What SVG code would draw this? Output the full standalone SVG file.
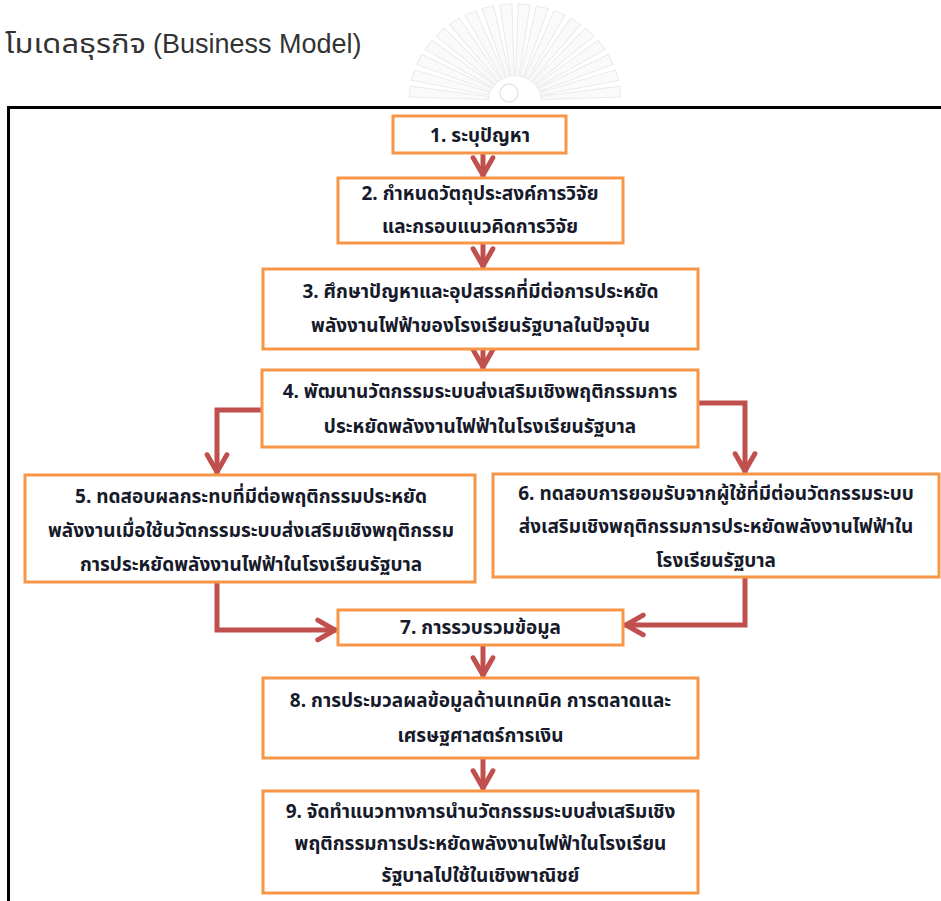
<svg xmlns="http://www.w3.org/2000/svg" width="941" height="901" viewBox="0 0 941 901">
  <defs>
    <marker id="open-arrow" viewBox="0 0 10 10" refX="9" refY="5" markerWidth="5.2" markerHeight="5.2" orient="auto" markerUnits="strokeWidth">
      <path d="M1.6,1.2 L8.2,5 L1.6,8.8" fill="none" stroke="#c0504d" stroke-width="1.9" stroke-linecap="round" stroke-linejoin="round"/>
    </marker>
    <!-- one ray of the background emblem, pointing left from the hub -->
    <polygon id="ray" points="486,98.5 414,94.5 414,105.5 486,101.5"/>
  </defs>
  <style>
    .title-th { font-family: "Noto Sans Thai", "Noto Sans", "Liberation Sans", sans-serif; font-size: 27px; fill: #333333; }
    .title-en { font-family: "Liberation Sans", "Noto Sans", sans-serif; font-size: 27px; fill: #333333; }
    .box { fill: #ffffff; stroke: #f79646; stroke-width: 3; }
    .lbl { font-family: "Noto Sans Thai", "Noto Sans", "DejaVu Sans", sans-serif; font-size: 19px; font-weight: bold; fill: #161a2a; text-anchor: middle; }
    .conn { fill: none; stroke: #c0504d; stroke-width: 5; marker-end: url(#open-arrow); }
    .frame { fill: none; stroke: #000000; stroke-width: 3; }
    .ray { fill: #fafafa; stroke: #ebebeb; stroke-width: 1; }
  </style>

  <rect x="0" y="0" width="941" height="901" fill="#ffffff"/>

  <!-- faint emblem in the page background -->
  <g id="emblem">
    <g transform="translate(515 100) scale(1.1 1) translate(-510 -100)">
      <use class="ray" href="#ray" transform="rotate(5 510 100)"/>
      <use class="ray" href="#ray" transform="rotate(15 510 100)"/>
      <use class="ray" href="#ray" transform="rotate(25 510 100)"/>
      <use class="ray" href="#ray" transform="rotate(35 510 100)"/>
      <use class="ray" href="#ray" transform="rotate(45 510 100)"/>
      <use class="ray" href="#ray" transform="rotate(55 510 100)"/>
      <use class="ray" href="#ray" transform="rotate(65 510 100)"/>
      <use class="ray" href="#ray" transform="rotate(75 510 100)"/>
      <use class="ray" href="#ray" transform="rotate(85 510 100)"/>
      <use class="ray" href="#ray" transform="rotate(95 510 100)"/>
      <use class="ray" href="#ray" transform="rotate(105 510 100)"/>
      <use class="ray" href="#ray" transform="rotate(115 510 100)"/>
      <use class="ray" href="#ray" transform="rotate(125 510 100)"/>
      <use class="ray" href="#ray" transform="rotate(135 510 100)"/>
      <use class="ray" href="#ray" transform="rotate(145 510 100)"/>
      <use class="ray" href="#ray" transform="rotate(155 510 100)"/>
      <use class="ray" href="#ray" transform="rotate(165 510 100)"/>
      <use class="ray" href="#ray" transform="rotate(175 510 100)"/>
    </g>
    <circle cx="509" cy="93" r="9" fill="#ffffff" stroke="#e6e6e6" stroke-width="1.5"/>
  </g>

  <text class="title-th" x="5" y="53" textLength="141" lengthAdjust="spacingAndGlyphs">โมเดลธุรกิจ</text>
  <text class="title-en" x="153" y="53">(Business Model)</text>

  <!-- outer frame: top and left edges -->
  <path class="frame" d="M941,107.5 L8.5,107.5 L8.5,901"/>

  <g id="connectors">
    <path class="conn" d="M483,154 L483,177"/>
    <path class="conn" d="M483,244 L483,268"/>
    <path class="conn" d="M483,350 L483,369"/>
    <path class="conn" d="M262,410 L217,410 L217,474"/>
    <path class="conn" d="M698,403 L745,403 L745,473"/>
    <path class="conn" d="M217,583 L217,630 L337,630"/>
    <path class="conn" d="M745,578 L745,625 L624,625"/>
    <path class="conn" d="M483,646 L483,677"/>
    <path class="conn" d="M483,759 L483,790"/>
  </g>

  <g id="n1">
    <rect class="box" x="393" y="116" width="173" height="37"/>
    <text class="lbl" x="480" y="142">1. ระบุปัญหา</text>
  </g>
  <g id="n2">
    <rect class="box" x="338" y="178" width="285" height="65"/>
    <text class="lbl" x="480" y="200">2. กำหนดวัตถุประสงค์การวิจัย</text>
    <text class="lbl" x="480" y="233">และกรอบแนวคิดการวิจัย</text>
  </g>
  <g id="n3">
    <rect class="box" x="263" y="269" width="435" height="80"/>
    <text class="lbl" x="480.5" y="298">3. ศึกษาปัญหาและอุปสรรคที่มีต่อการประหยัด</text>
    <text class="lbl" x="480.5" y="332">พลังงานไฟฟ้าของโรงเรียนรัฐบาลในปัจจุบัน</text>
  </g>
  <g id="n4">
    <rect class="box" x="262" y="370" width="436" height="77"/>
    <text class="lbl" x="480" y="398">4. พัฒนานวัตกรรมระบบส่งเสริมเชิงพฤติกรรมการ</text>
    <text class="lbl" x="480" y="433">ประหยัดพลังงานไฟฟ้าในโรงเรียนรัฐบาล</text>
  </g>
  <g id="n5">
    <rect class="box" x="25" y="475" width="450" height="107"/>
    <text class="lbl" x="251" y="503">5. ทดสอบผลกระทบที่มีต่อพฤติกรรมประหยัด</text>
    <text class="lbl" x="251" y="537">พลังงานเมื่อใช้นวัตกรรมระบบส่งเสริมเชิงพฤติกรรม</text>
    <text class="lbl" x="251" y="571">การประหยัดพลังงานไฟฟ้าในโรงเรียนรัฐบาล</text>
  </g>
  <g id="n6">
    <rect class="box" x="493" y="474" width="446" height="103"/>
    <text class="lbl" x="716" y="500">6. ทดสอบการยอมรับจากผู้ใช้ที่มีต่อนวัตกรรมระบบ</text>
    <text class="lbl" x="716" y="533">ส่งเสริมเชิงพฤติกรรมการประหยัดพลังงานไฟฟ้าใน</text>
    <text class="lbl" x="716" y="567">โรงเรียนรัฐบาล</text>
  </g>
  <g id="n7">
    <rect class="box" x="338" y="610" width="285" height="35"/>
    <text class="lbl" x="480.5" y="634">7. การรวบรวมข้อมูล</text>
  </g>
  <g id="n8">
    <rect class="box" x="263" y="678" width="435" height="80"/>
    <text class="lbl" x="480.5" y="707">8. การประมวลผลข้อมูลด้านเทคนิค การตลาดและ</text>
    <text class="lbl" x="480.5" y="742">เศรษฐศาสตร์การเงิน</text>
  </g>
  <g id="n9">
    <rect class="box" x="263" y="791" width="435" height="102"/>
    <text class="lbl" x="480.5" y="818">9. จัดทำแนวทางการนำนวัตกรรมระบบส่งเสริมเชิง</text>
    <text class="lbl" x="480.5" y="850">พฤติกรรมการประหยัดพลังงานไฟฟ้าในโรงเรียน</text>
    <text class="lbl" x="480.5" y="882">รัฐบาลไปใช้ในเชิงพาณิชย์</text>
  </g>
</svg>
